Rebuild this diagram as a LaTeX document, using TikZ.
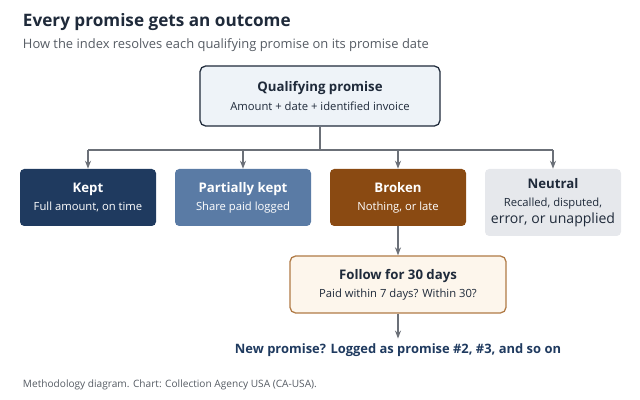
\documentclass[tikz,border=0pt]{standalone}
\usepackage{fontspec}
\setmainfont{Open Sans}
\usetikzlibrary{positioning}
\usetikzlibrary {arrows.meta}
\definecolor{navy}{HTML}{1F3A5F}
\definecolor{steel}{HTML}{5A7BA5}
\definecolor{rust}{HTML}{8A4A12}
\definecolor{mist}{HTML}{E6E8EC}
\definecolor{ice}{HTML}{EEF3F8}
\definecolor{cream}{HTML}{FDF6EC}
\definecolor{tan}{HTML}{B07A45}
\definecolor{ink}{HTML}{1F2A3A}
\definecolor{slate}{HTML}{555B63}
\definecolor{wire}{HTML}{6B7078}
\newlength{\unitpx}\setlength{\unitpx}{0.025cm}
\tikzset{outcome/.style={rectangle,rounded corners=3pt,draw=none,
inner sep=2pt,minimum height=57\unitpx, minimum width=136\unitpx,align=center,text=white}}
\tikzset{flowbox/.style={rectangle,rounded corners=4pt,line width=0.9pt,
inner sep=2pt,align=center,text=ink}}
\tikzset{link/.style={line width=0.9pt,draw=wire,-{Stealth[length=2mm]}}}
\newcommand{\headtext}[2]{\fontsize{9.4pt}{11pt}\selectfont\bfseries #1\\[1pt]\fontsize{8pt}{11pt}\selectfont\mdseries #2}

\begin{document}
\begin{tikzpicture}[x=0.025cm,y=-0.025cm]
        \useasboundingbox (0,0) rectangle (640,400);

        \node[anchor=west,text=ink,font=\fontsize{12.2pt}{14pt}\selectfont\bfseries] (title) at (18,22) {Every promise gets an outcome};
        \node[anchor=west,text=slate,font=\fontsize{9.2pt}{11pt}\selectfont] (subtitle) at (18,45) {How the index resolves each qualifying promise on its promise date};

        \node[flowbox,draw=ink,fill=ice,minimum width=240\unitpx,minimum height=60\unitpx] (qualify) at (320,96) {\headtext{Qualifying promise}{Amount + date + identified invoice}};

        \node[outcome,fill=navy] (kept) at (88,197.5) {\headtext{Kept}{Full amount, on time}};
        \node[outcome,fill=steel] (partial) at (243,197.5) {\headtext{Partially kept}{Share paid logged}};
        \node[outcome,fill=rust] (broken) at (398,197.5) {\headtext{Broken}{Nothing, or late}};
        \node[outcome,fill=mist,text=ink,minimum height=67\unitpx] (neutral) at (553,202.5) {\headtext{Neutral}{Recalled, disputed,\\error, or unapplied}};

        \coordinate (split) at (320,150);
        \draw[line width=0.9pt,draw=wire] (qualify.south) -- (split);
        \draw[line width=0.9pt,draw=wire] (split -| kept) -- (split -| neutral);
        \foreach \outc in {kept,partial,broken,neutral}
            \draw[link] (split -| \outc) -- (\outc.north);

        \node[flowbox,draw=tan,fill=cream,minimum width=216\unitpx,minimum height=57\unitpx] (follow) at (398,284.5) {\headtext{Follow for 30 days}{Paid within 7 days? Within 30?}};
        \draw[link] (broken.south) -- (follow.north);

        \node[text=navy,font=\fontsize{9.2pt}{11pt}\selectfont\bfseries] (repeat) at (398,350) {New promise? Logged as promise \#2, \#3, and so on};
        \draw[link] (follow.south) -- (repeat.north);

        \node[anchor=west,text=slate,font=\fontsize{7.2pt}{9pt}\selectfont] (footer) at (18,385) {Methodology diagram. Chart: Collection Agency USA (CA-USA).};

    \end{tikzpicture}
\end{document}
